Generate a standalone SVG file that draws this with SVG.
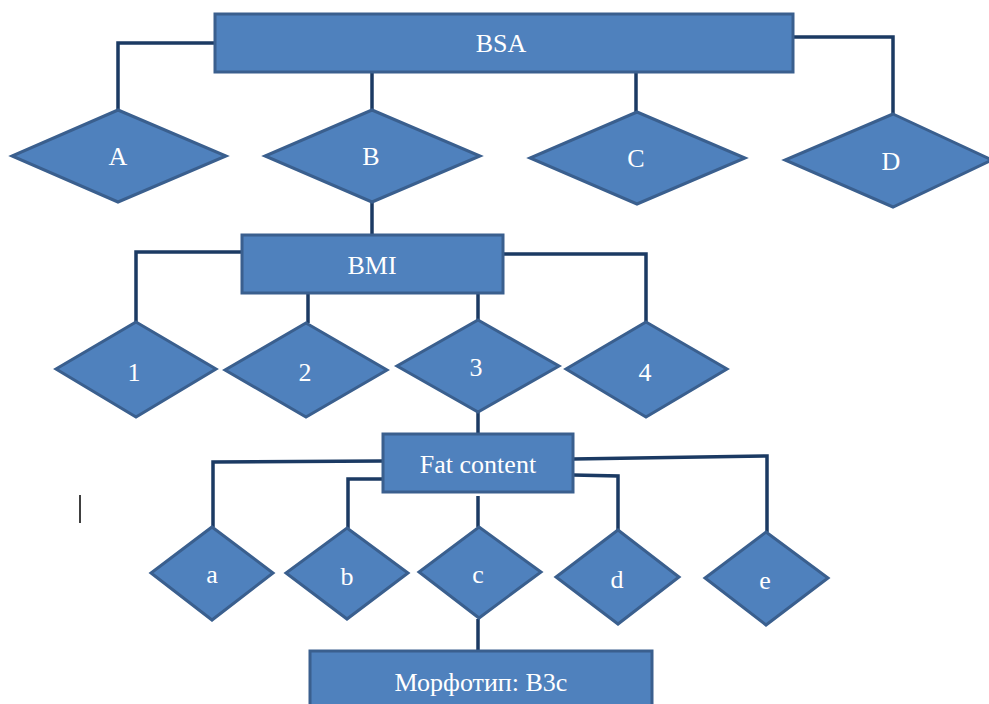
<svg xmlns="http://www.w3.org/2000/svg" width="989" height="704" viewBox="0 0 989 704">
<style>
.box{fill:#4F81BD;stroke:#3A5F8E;stroke-width:3}
.lbl{fill:#FFFFFF;font-family:'Liberation Serif','DejaVu Serif',serif;font-size:26px;text-anchor:middle}
.con{fill:none;stroke:#1B3A63;stroke-width:3.5;stroke-linejoin:miter}
</style>
<rect width="989" height="704" fill="#FFFFFF"/>
<g id="connectors">
<polyline class="con" points="214,43 118,43 118,110"/>
<polyline class="con" points="372,72 372,110"/>
<polyline class="con" points="636,72 636,112"/>
<polyline class="con" points="793,37 893,37 893,114"/>
<polyline class="con" points="372,202 372,235"/>
<polyline class="con" points="242,252 136,252 136,322"/>
<polyline class="con" points="308,293 308,323"/>
<polyline class="con" points="478,293 478,320"/>
<polyline class="con" points="503,254 646,254 646,322"/>
<polyline class="con" points="478,412 478,434"/>
<polyline class="con" points="383,461 213,462 213,527"/>
<polyline class="con" points="383,479 348,479 348,528"/>
<polyline class="con" points="478,496 478,527"/>
<polyline class="con" points="573,475 618,476 618,530"/>
<polyline class="con" points="573,459 767,456 767,532"/>
<polyline class="con" points="478,619 478,650"/>
</g>
<g id="BSA"><rect class="box" x="215" y="14" width="578" height="58"/><text class="lbl" x="501" y="52">BSA</text></g>
<g id="A"><polygon class="box" points="118,110 226,156 118,202 12,156"/><text class="lbl" x="118" y="165">A</text></g>
<g id="B"><polygon class="box" points="372,110 480,156 372,202 265,156"/><text class="lbl" x="371" y="165">B</text></g>
<g id="C"><polygon class="box" points="637,112 745,158 637,204 530,158"/><text class="lbl" x="636" y="167">C</text></g>
<g id="D"><polygon class="box" points="893,114 992,160 893,207 785,160"/><text class="lbl" x="891" y="170">D</text></g>
<g id="BMI"><rect class="box" x="242" y="235" width="261" height="58"/><text class="lbl" x="372" y="274">BMI</text></g>
<g id="n1"><polygon class="box" points="136,322 216,369 136,417 56,369"/><text class="lbl" x="134" y="381">1</text></g>
<g id="n2"><polygon class="box" points="306,323 387,370 306,417 225,370"/><text class="lbl" x="305" y="381">2</text></g>
<g id="n3"><polygon class="box" points="478,320 559,366 478,412 397,366"/><text class="lbl" x="476" y="376">3</text></g>
<g id="n4"><polygon class="box" points="646,322 727,369 646,417 566,369"/><text class="lbl" x="645" y="381">4</text></g>
<g id="Fat"><rect class="box" x="383" y="434" width="190" height="58"/><text class="lbl" x="478" y="473">Fat content</text></g>
<g id="na"><polygon class="box" points="212,527 273,573 212,620 151,573"/><text class="lbl" x="212" y="583">a</text></g>
<g id="nb"><polygon class="box" points="347,528 408,573 347,619 286,573"/><text class="lbl" x="347" y="585">b</text></g>
<g id="nc"><polygon class="box" points="479,527 541,572 479,618 419,572"/><text class="lbl" x="478" y="583">c</text></g>
<g id="nd"><polygon class="box" points="618,530 679,577 618,624 556,577"/><text class="lbl" x="617" y="588">d</text></g>
<g id="ne"><polygon class="box" points="766,532 828,578 766,625 705,578"/><text class="lbl" x="765" y="589">e</text></g>
<g id="Morph"><rect class="box" x="310" y="651" width="342" height="60"/><text class="lbl" x="481" y="691">Морфотип: B3c</text></g>
<line x1="80" y1="495" x2="80" y2="523" stroke="#000000" stroke-width="1.5"/>
</svg>
